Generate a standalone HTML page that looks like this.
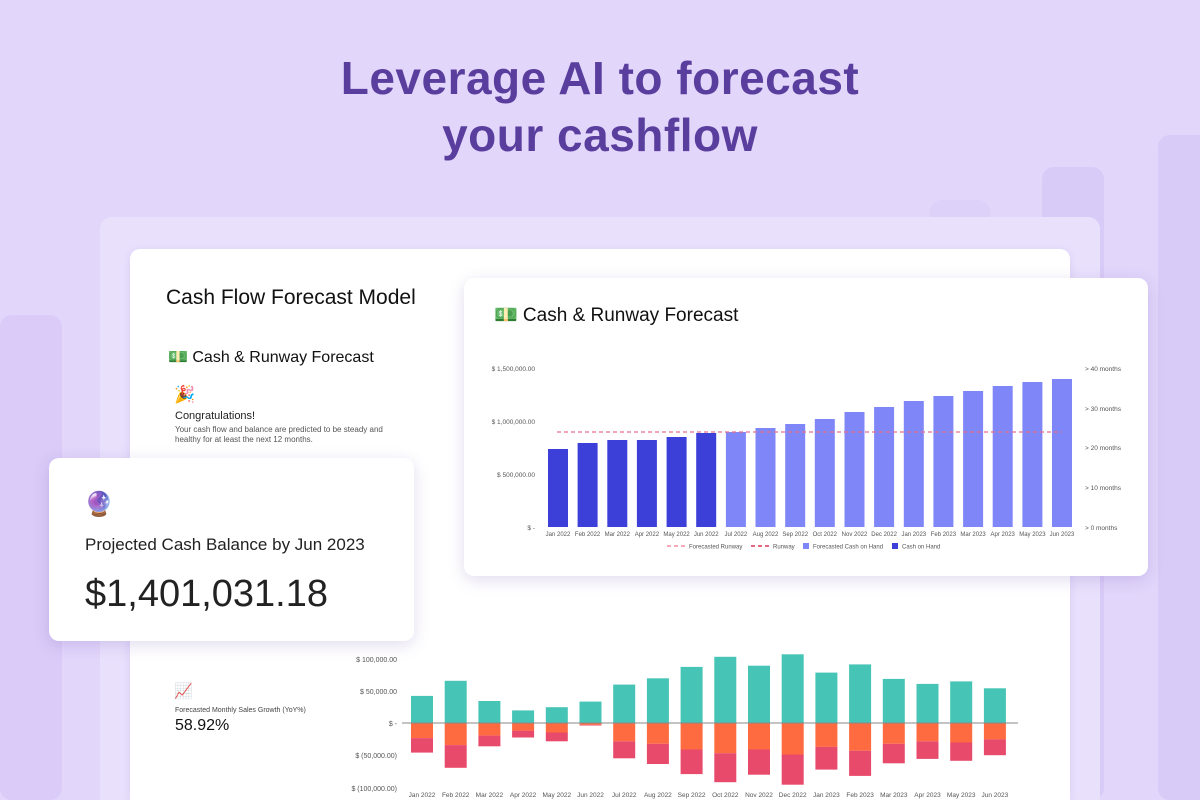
<!DOCTYPE html>
<html style="width:1200px;height:800px;overflow:hidden"><head><meta charset="utf-8"><style>
*{margin:0;padding:0;box-sizing:border-box}
body{width:1200px;height:800px;overflow:hidden;background:#e2d6fb;font-family:"Liberation Sans",sans-serif;position:relative}
.abs{position:absolute}
h1{position:absolute;left:0;width:1200px;top:50px;text-align:center;font-size:46px;line-height:57px;color:#5a3e9e;font-weight:bold;letter-spacing:0.5px}
.deco{position:absolute;background:#d9cbf7;border-radius:12px}
.card{position:absolute;background:#fff;border-radius:10px}
</style></head><body>
<div class="deco" style="left:1158px;top:135px;width:60px;height:665px"></div>
<div class="deco" style="left:1042px;top:167px;width:62px;height:633px"></div>
<div class="deco" style="left:930px;top:200px;width:60px;height:600px;background:#ddd0f9"></div>
<div class="deco" style="left:0;top:315px;width:62px;height:485px;background:#dacbf8"></div>
<h1>Leverage AI to forecast<br>your cashflow</h1>
<div class="abs" style="left:100px;top:217px;width:1000px;height:583px;background:#e9e1fc;border-radius:12px 12px 0 0"></div>
<div class="card" style="left:130px;top:249px;width:940px;height:551px;border-radius:10px 10px 0 0;box-shadow:0 2px 10px rgba(120,90,200,0.15)"></div>
<div class="abs" style="left:166px;top:286px;font-size:21px;color:#111">Cash Flow Forecast Model</div>
<div class="abs" style="left:168px;top:347px;font-size:16px;color:#111">💵 Cash &amp; Runway Forecast</div>
<div class="abs" style="left:174px;top:385px;font-size:17px">🎉</div>
<div class="abs" style="left:175px;top:410px;font-size:11px;color:#222">Congratulations!</div>
<div class="abs" style="left:175px;top:425px;font-size:8px;color:#555;width:230px;line-height:10px">Your cash flow and balance are predicted to be steady and healthy for at least the next 12 months.</div>
<div class="abs" style="left:174px;top:682px;font-size:15px">📈</div>
<div class="abs" style="left:175px;top:707px;font-size:7px;color:#444">Forecasted Monthly Sales Growth (YoY%)</div>
<div class="abs" style="left:175px;top:717px;font-size:16px;color:#111">58.92%</div>
<svg class="abs" style="left:0;top:0" width="1200" height="800" font-family="Liberation Sans" font-size="7" fill="#555">
<g text-anchor="end"><text x="397" y="662">$ 100,000.00</text><text x="397" y="694">$ 50,000.00</text><text x="397" y="726">$ -</text><text x="397" y="758">$ (50,000.00)</text><text x="397" y="791">$ (100,000.00)</text></g>
<g fill="#46c4b5"><rect x="411" y="695.9" width="22" height="27.1"/><rect x="444.7" y="680.8" width="22" height="42.2"/><rect x="478.4" y="701" width="22" height="22"/><rect x="512.1" y="710.4" width="22" height="12.6"/><rect x="545.8" y="707.2" width="22" height="15.8"/><rect x="579.5" y="701.6" width="22" height="21.4"/><rect x="613.2" y="684.6" width="22" height="38.4"/><rect x="646.9" y="678.3" width="22" height="44.7"/><rect x="680.6" y="666.9" width="22" height="56.1"/><rect x="714.3" y="656.8" width="22" height="66.2"/><rect x="748" y="665.7" width="22" height="57.3"/><rect x="781.7" y="654.3" width="22" height="68.7"/><rect x="815.4" y="672.6" width="22" height="50.4"/><rect x="849.1" y="664.4" width="22" height="58.6"/><rect x="882.8" y="678.9" width="22" height="44.1"/><rect x="916.5" y="683.9" width="22" height="39.1"/><rect x="950.2" y="681.4" width="22" height="41.6"/><rect x="983.9" y="688.3" width="22" height="34.7"/></g>
<g fill="#fe6b40"><rect x="411" y="723" width="22" height="15.1"/><rect x="444.7" y="723" width="22" height="22.1"/><rect x="478.4" y="723" width="22" height="12.6"/><rect x="512.1" y="723" width="22" height="7.6"/><rect x="545.8" y="723" width="22" height="9.5"/><rect x="579.5" y="723" width="22" height="1.9"/><rect x="613.2" y="723" width="22" height="18.3"/><rect x="646.9" y="723" width="22" height="20.8"/><rect x="680.6" y="723" width="22" height="26.5"/><rect x="714.3" y="723" width="22" height="30.2"/><rect x="748" y="723" width="22" height="26.5"/><rect x="781.7" y="723" width="22" height="31.5"/><rect x="815.4" y="723" width="22" height="23.9"/><rect x="849.1" y="723" width="22" height="27.7"/><rect x="882.8" y="723" width="22" height="20.8"/><rect x="916.5" y="723" width="22" height="18.3"/><rect x="950.2" y="723" width="22" height="19.5"/><rect x="983.9" y="723" width="22" height="16.4"/></g>
<g fill="#e84a6b"><rect x="411" y="738.1" width="22" height="14.5"/><rect x="444.7" y="745.1" width="22" height="22.7"/><rect x="478.4" y="735.6" width="22" height="10.7"/><rect x="512.1" y="730.6" width="22" height="6.9"/><rect x="545.8" y="732.5" width="22" height="8.8"/><rect x="579.5" y="724.9" width="22" height="0.6"/><rect x="613.2" y="741.3" width="22" height="17"/><rect x="646.9" y="743.8" width="22" height="20.2"/><rect x="680.6" y="749.5" width="22" height="24.6"/><rect x="714.3" y="753.2" width="22" height="29"/><rect x="748" y="749.5" width="22" height="25.2"/><rect x="781.7" y="754.5" width="22" height="30.2"/><rect x="815.4" y="746.9" width="22" height="22.7"/><rect x="849.1" y="750.7" width="22" height="25.2"/><rect x="882.8" y="743.8" width="22" height="19.5"/><rect x="916.5" y="741.3" width="22" height="17.6"/><rect x="950.2" y="742.5" width="22" height="18.3"/><rect x="983.9" y="739.4" width="22" height="15.8"/></g>
<line x1="402" y1="723" x2="1018" y2="723" stroke="#888" stroke-width="1"/>
<g text-anchor="middle" font-size="6.5"><text x="422" y="797">Jan 2022</text><text x="455.7" y="797">Feb 2022</text><text x="489.4" y="797">Mar 2022</text><text x="523.1" y="797">Apr 2022</text><text x="556.8" y="797">May 2022</text><text x="590.5" y="797">Jun 2022</text><text x="624.2" y="797">Jul 2022</text><text x="657.9" y="797">Aug 2022</text><text x="691.6" y="797">Sep 2022</text><text x="725.3" y="797">Oct 2022</text><text x="759" y="797">Nov 2022</text><text x="792.7" y="797">Dec 2022</text><text x="826.4" y="797">Jan 2023</text><text x="860.1" y="797">Feb 2023</text><text x="893.8" y="797">Mar 2023</text><text x="927.5" y="797">Apr 2023</text><text x="961.2" y="797">May 2023</text><text x="994.9" y="797">Jun 2023</text></g>
</svg>
<div class="card" style="left:464px;top:278px;width:684px;height:298px;box-shadow:0 4px 16px rgba(90,60,160,0.18)"></div>
<div class="abs" style="left:494px;top:303px;font-size:19px;color:#111">💵 Cash &amp; Runway Forecast</div>
<svg class="abs" style="left:0;top:0" width="1200" height="800" font-family="Liberation Sans" font-size="6.5" fill="#555">
<g text-anchor="end"><text x="535" y="371">$ 1,500,000.00</text><text x="535" y="424">$ 1,000,000.00</text><text x="535" y="477">$ 500,000.00</text><text x="535" y="530">$ -</text></g>
<g><text x="1085" y="371">&gt; 40 months</text><text x="1085" y="411">&gt; 30 months</text><text x="1085" y="450">&gt; 20 months</text><text x="1085" y="490">&gt; 10 months</text><text x="1085" y="530">&gt; 0 months</text></g>
<g fill="#3d3fd9"><rect x="548" y="449" width="20" height="78"/><rect x="577.6" y="443" width="20" height="84"/><rect x="607.3" y="440" width="20" height="87"/><rect x="636.9" y="440" width="20" height="87"/><rect x="666.6" y="437" width="20" height="90"/><rect x="696.2" y="433" width="20" height="94"/></g>
<g fill="#7f86f7"><rect x="725.9" y="432" width="20" height="95"/><rect x="755.5" y="428" width="20" height="99"/><rect x="785.2" y="424" width="20" height="103"/><rect x="814.8" y="419" width="20" height="108"/><rect x="844.5" y="412" width="20" height="115"/><rect x="874.1" y="407" width="20" height="120"/><rect x="903.8" y="401" width="20" height="126"/><rect x="933.4" y="396" width="20" height="131"/><rect x="963.1" y="391" width="20" height="136"/><rect x="992.7" y="386" width="20" height="141"/><rect x="1022.4" y="382" width="20" height="145"/><rect x="1052" y="379" width="20" height="148"/></g>
<line x1="557" y1="432" x2="1062" y2="432" stroke="#e8708a" stroke-width="1.2" stroke-dasharray="4,3"/>
<g text-anchor="middle" font-size="6"><text x="558" y="536">Jan 2022</text><text x="587.6" y="536">Feb 2022</text><text x="617.3" y="536">Mar 2022</text><text x="646.9" y="536">Apr 2022</text><text x="676.6" y="536">May 2022</text><text x="706.2" y="536">Jun 2022</text><text x="735.9" y="536">Jul 2022</text><text x="765.5" y="536">Aug 2022</text><text x="795.2" y="536">Sep 2022</text><text x="824.8" y="536">Oct 2022</text><text x="854.5" y="536">Nov 2022</text><text x="884.1" y="536">Dec 2022</text><text x="913.8" y="536">Jan 2023</text><text x="943.4" y="536">Feb 2023</text><text x="973.1" y="536">Mar 2023</text><text x="1002.7" y="536">Apr 2023</text><text x="1032.4" y="536">May 2023</text><text x="1062" y="536">Jun 2023</text></g>
<g font-size="6"><line x1="667" y1="546" x2="685" y2="546" stroke="#f08ca0" stroke-width="1.5" stroke-dasharray="4,3"/><text x="689" y="548.5">Forecasted Runway</text>
<line x1="751" y1="546" x2="769" y2="546" stroke="#e0365a" stroke-width="1.5" stroke-dasharray="4,3"/><text x="773" y="548.5">Runway</text>
<rect x="803" y="543" width="6" height="6" fill="#7f86f7"/><text x="813" y="548.5">Forecasted Cash on Hand</text>
<rect x="892" y="543" width="6" height="6" fill="#3d3fd9"/><text x="902" y="548.5">Cash on Hand</text></g>
</svg>
<div class="card" style="left:49px;top:458px;width:365px;height:183px;box-shadow:0 4px 16px rgba(90,60,160,0.18)"></div>
<div class="abs" style="left:84px;top:490px;font-size:24px">🔮</div>
<div class="abs" style="left:85px;top:535px;font-size:17px;color:#222">Projected Cash Balance by Jun 2023</div>
<div class="abs" style="left:85px;top:573px;font-size:38px;color:#222">$1,401,031.18</div>
</body></html>
